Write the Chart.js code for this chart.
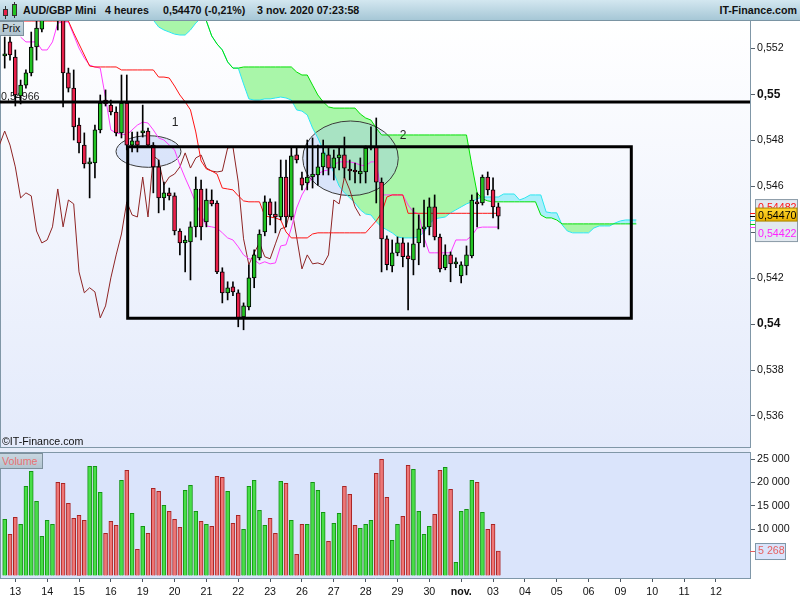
<!DOCTYPE html>
<html>
<head>
<meta charset="utf-8">
<title>AUD/GBP Mini 4 heures</title>
<script src="https://cdn.jsdelivr.net/npm/chart.js@4.4.1/dist/chart.umd.min.js"></script>
<style>
  html, body { margin:0; padding:0; width:800px; height:600px; overflow:hidden; background:#ffffff; font-family:"Liberation Sans", Arial, sans-serif; }
  .abs { position:absolute; }
  #hdr { left:0; top:0; width:800px; height:21px; background:linear-gradient(#d3e7f0,#a6c7d6); border-bottom:1px solid #7a94a3; box-sizing:border-box; }
  #hdr span { position:absolute; top:3px; font-weight:bold; font-size:10.67px; color:#111; white-space:nowrap; line-height:14px; }
  #pbg { left:0; top:21px; width:750px; height:427px; background:linear-gradient(#ffffff,#e3eafb); border-left:1px solid #8097a7; border-bottom:1px solid #8097a7; box-sizing:border-box; }
  #mid { left:0; top:448px; width:750px; height:4px; background:#e6ecfa; }
  #vbg { left:0; top:452px; width:750px; height:126px; background:#dae4fb; border-left:1px solid #8097a7; border-top:1px solid #8097a7; box-sizing:border-box; }
  #prix { left:0; top:21px; width:21px; height:13px; background:linear-gradient(#c9d8e0,#aec2cd); border:1px solid #7d909c; border-left:none; font-size:10.67px; line-height:13px; color:#111; padding-left:2px; box-sizing:content-box; }
  #volb { left:0; top:453px; width:40px; height:14px; background:linear-gradient(#c8d6e0,#b2c4d0); border:1px solid #7d909c; border-left:none; font-size:10.67px; line-height:14px; color:#e87272; padding-left:2px; }
  #copy { left:2px; top:435px; font-size:10.67px; color:#111; }
  .ic { position:absolute; }
  canvas { position:absolute; left:0; }
</style>
</head>
<body>
<div id="pbg" class="abs"></div>
<div id="mid" class="abs"></div>
<div id="vbg" class="abs"></div>
<canvas id="pc" width="800" height="428" style="top:20px;width:800px;height:428px"></canvas>
<canvas id="vc" width="800" height="148" style="top:452px;width:800px;height:148px"></canvas>
<div id="hdr" class="abs">
  <div class="ic" style="left:5px;top:6px;width:1px;height:13px;background:#333"></div>
  <div class="ic" style="left:3px;top:9px;width:5px;height:7px;background:#e8204a;border:1px solid #333;box-sizing:border-box"></div>
  <div class="ic" style="left:14px;top:2px;width:1px;height:16px;background:#333"></div>
  <div class="ic" style="left:12px;top:4px;width:5px;height:12px;background:#22c322;border:1px solid #333;box-sizing:border-box"></div>
  <span style="left:23px">AUD/GBP Mini</span>
  <span style="left:105px">4 heures</span>
  <span style="left:163px">0,54470 (-0,21%)</span>
  <span style="left:257px">3 nov. 2020 07:23:58</span>
  <span style="right:3px">IT-Finance.com</span>
</div>
<div id="prix" class="abs">Prix</div>
<div id="volb" class="abs">Volume</div>
<div id="copy" class="abs">©IT-Finance.com</div>
<script>
// ---------- data ----------
const openP = [0.55167,0.55228,0.55162,0.54993,0.55040,0.55093,0.55206,0.55284,0.55345,0.55420,
0.55500,0.55450,0.55093,0.55027,0.54866,0.54779,0.54697,0.54701,0.54845,0.54975,
0.54953,0.54923,0.54832,0.54962,0.54779,0.54797,0.54832,0.54840,0.54779,0.54684,
0.54549,0.54571,0.54558,0.54405,0.54353,0.54358,0.54423,0.54588,0.54445,0.54540,
0.54527,0.54227,0.54136,0.54162,0.54136,0.54031,0.54075,0.54201,0.54288,0.54401,
0.54532,0.54479,0.54466,0.54640,0.54466,0.54736,0.54636,0.54614,0.54640,0.54649,
0.54684,0.54736,0.54679,0.54723,0.54736,0.54675,0.54666,0.54653,0.54662,0.54766,
0.54771,0.54618,0.54371,0.54253,0.54310,0.54353,0.54297,0.54279,0.54353,0.54414,
0.54423,0.54510,0.54379,0.54245,0.54301,0.54262,0.54210,0.54253,0.54297,0.54532,
0.54527,0.54640,0.54584,0.54510];
const highP = [0.55249,0.55249,0.55193,0.55062,0.55106,0.55271,0.55319,0.55367,0.55437,0.55505,
0.55670,0.55470,0.55114,0.55106,0.54897,0.54832,0.54723,0.54866,0.54997,0.55019,
0.54975,0.54945,0.55084,0.55084,0.54836,0.54836,0.54953,0.54853,0.54790,0.54714,
0.54618,0.54592,0.54571,0.54414,0.54384,0.54445,0.54640,0.54627,0.54588,0.54584,
0.54536,0.54245,0.54184,0.54184,0.54149,0.54092,0.54258,0.54323,0.54410,0.54558,
0.54545,0.54532,0.54714,0.54714,0.54771,0.54771,0.54662,0.54801,0.54810,0.54779,
0.54801,0.54766,0.54758,0.54766,0.54814,0.54714,0.54701,0.54723,0.54775,0.54858,
0.54897,0.54636,0.54384,0.54366,0.54379,0.54375,0.54353,0.54505,0.54475,0.54540,
0.54549,0.54562,0.54392,0.54345,0.54314,0.54288,0.54271,0.54340,0.54562,0.54571,
0.54649,0.54662,0.54636,0.54527];
const lowP = [0.55114,0.55149,0.54949,0.54958,0.55027,0.55080,0.55149,0.55271,0.55320,0.55390,
0.55280,0.54945,0.55010,0.54801,0.54745,0.54679,0.54549,0.54636,0.54832,0.54949,
0.54910,0.54819,0.54810,0.54758,0.54749,0.54749,0.54814,0.54771,0.54571,0.54484,
0.54497,0.54540,0.54388,0.54301,0.54227,0.54192,0.54379,0.54366,0.54423,0.54514,
0.54219,0.54092,0.54105,0.54123,0.53988,0.53975,0.54062,0.54158,0.54279,0.54384,
0.54432,0.54397,0.54453,0.54423,0.54453,0.54701,0.54584,0.54584,0.54592,0.54605,
0.54649,0.54649,0.54627,0.54671,0.54636,0.54627,0.54614,0.54614,0.54614,0.54758,
0.54527,0.54227,0.54236,0.54227,0.54297,0.54249,0.54062,0.54214,0.54258,0.54336,
0.54388,0.54366,0.54227,0.54236,0.54184,0.54245,0.54179,0.54214,0.54288,0.54423,
0.54518,0.54562,0.54462,0.54414];
const closeP = [0.55175,0.55171,0.54997,0.55040,0.55093,0.55206,0.55288,0.55345,0.55420,0.55495,
0.55450,0.55093,0.55027,0.54858,0.54788,0.54697,0.54701,0.54845,0.54962,0.54958,
0.54923,0.54832,0.54962,0.54779,0.54797,0.54779,0.54840,0.54779,0.54684,0.54549,
0.54571,0.54558,0.54405,0.54353,0.54366,0.54423,0.54588,0.54423,0.54540,0.54523,
0.54227,0.54136,0.54158,0.54140,0.54027,0.54079,0.54201,0.54301,0.54392,0.54532,
0.54475,0.54466,0.54640,0.54466,0.54732,0.54714,0.54605,0.54640,0.54653,0.54684,
0.54745,0.54679,0.54723,0.54736,0.54679,0.54666,0.54662,0.54666,0.54766,0.54771,
0.54618,0.54371,0.54258,0.54310,0.54353,0.54293,0.54284,0.54349,0.54414,0.54423,
0.54510,0.54379,0.54240,0.54301,0.54262,0.54266,0.54258,0.54301,0.54540,0.54523,
0.54640,0.54584,0.54510,0.54470];
const volume = [12100,8870,12520,11020,19190,22420,15970,8440,11880,11020,
20060,19840,15540,12310,12950,11880,23500,23500,17900,9080,
11660,10800,20490,22640,13380,5640,10590,9080,18760,18120,
15110,13820,12100,10370,18330,19410,13820,11660,11020,10590,
21350,21130,18120,11230,12950,9940,19190,20490,14030,10800,
12310,9080,20270,19840,11880,4560,11020,11020,20060,18330,
13600,7360,11230,13380,19190,17470,10800,10160,11020,11880,
21990,25000,16830,7580,11020,12740,23710,22850,13820,8870,
10590,13170,22640,23280,18550,2840,13820,14250,20490,20060,
13600,9940,11020,5268];
const tenkan = [null,null,null,0.55249,0.55228,0.55228,0.55228,0.55193,0.55193,0.55228,
0.55310,0.55315,0.55315,0.55258,0.55201,0.55158,0.55127,0.55119,0.55114,0.54984,
0.54845,0.54832,0.54827,0.54823,0.54845,0.54866,0.54879,0.54875,0.54845,0.54810,
0.54801,0.54779,0.54758,0.54692,0.54636,0.54584,0.54527,0.54475,0.54427,0.54423,
0.54418,0.54397,0.54375,0.54366,0.54336,0.54301,0.54284,0.54279,0.54262,0.54271,
0.54262,0.54266,0.54340,0.54345,0.54418,0.54505,0.54562,0.54601,0.54645,0.54653,
0.54666,0.54671,0.54692,0.54706,0.54706,0.54706,0.54701,0.54692,0.54688,0.54706,
0.54706,0.54562,0.54562,0.54562,0.54562,0.54562,0.54518,0.54488,0.54479,0.54375,
0.54310,0.54310,0.54310,0.54310,0.54310,0.54366,0.54366,0.54366,0.54384,0.54418,
0.54422,0.54422,0.54422,0.54422];
const kijun = [null,null,null,0.55319,0.55319,0.55319,0.55319,0.55319,0.55319,0.55319,
0.55319,0.55319,0.55319,0.55267,0.55219,0.55171,0.55123,0.55119,0.55119,0.55119,
0.55119,0.55119,0.55106,0.55106,0.55106,0.55106,0.55106,0.55106,0.55106,0.55075,
0.55075,0.55071,0.55036,0.54997,0.54967,0.54932,0.54836,0.54710,0.54675,0.54666,
0.54653,0.54592,0.54588,0.54584,0.54558,0.54536,0.54532,0.54532,0.54532,0.54471,
0.54466,0.54462,0.54453,0.54401,0.54375,0.54375,0.54375,0.54375,0.54392,0.54397,
0.54397,0.54397,0.54397,0.54397,0.54397,0.54397,0.54397,0.54397,0.54397,0.54423,
0.54449,0.54484,0.54553,0.54562,0.54562,0.54562,0.54482,0.54482,0.54482,0.54482,
0.54482,0.54482,0.54482,0.54482,0.54482,0.54482,0.54482,0.54482,0.54482,0.54482,
0.54482,0.54482,0.54482,0.54482];
const senkouA = [0.55450,0.55450,0.55450,0.55450,0.55450,0.55450,0.55450,0.55450,0.55450,0.55450,
0.55450,0.55450,0.55450,0.55450,0.55450,0.55450,0.55450,0.55450,0.55450,0.55450,
0.55450,0.55400,0.55400,0.55400,0.55400,0.55400,0.55400,0.55400,0.55323,0.55293,
0.55280,0.55271,0.55262,0.55258,0.55258,0.55280,0.55310,0.55332,0.55319,0.55254,
0.55219,0.55193,0.55141,0.55114,0.55114,0.55045,0.54980,0.54975,0.54975,0.54980,
0.54980,0.54984,0.54988,0.54984,0.54975,0.54932,0.54927,0.54910,0.54853,0.54810,
0.54758,0.54714,0.54658,0.54601,0.54571,0.54549,0.54527,0.54497,0.54479,0.54475,
0.54445,0.54423,0.54410,0.54397,0.54379,0.54375,0.54375,0.54375,0.54379,0.54401,
0.54436,0.54458,0.54462,0.54466,0.54484,0.54497,0.54510,0.54523,0.54532,0.54545,
0.54553,0.54553,0.54553,0.54553,0.54566,0.54566,0.54566,0.54540,0.54549,0.54562,
0.54562,0.54562,0.54488,0.54484,0.54484,0.54432,0.54405,0.54397,0.54397,0.54397,
0.54397,0.54418,0.54427,0.54427,0.54427,0.54440,0.54449,0.54453,0.54453,0.54453];
const senkouB = [0.55500,0.55500,0.55500,0.55500,0.55500,0.55500,0.55500,0.55500,0.55500,0.55500,
0.55500,0.55500,0.55500,0.55500,0.55500,0.55500,0.55500,0.55500,0.55500,0.55500,
0.55500,0.55500,0.55500,0.55500,0.55500,0.55500,0.55500,0.55500,0.55500,0.55500,
0.55500,0.55450,0.55450,0.55450,0.55450,0.55450,0.55450,0.55450,0.55319,0.55254,
0.55219,0.55193,0.55141,0.55114,0.55114,0.55119,0.55119,0.55119,0.55119,0.55119,
0.55119,0.55119,0.55119,0.55119,0.55119,0.55097,0.55084,0.55084,0.55040,0.54997,
0.54967,0.54945,0.54940,0.54940,0.54940,0.54940,0.54940,0.54914,0.54897,0.54888,
0.54853,0.54823,0.54823,0.54823,0.54823,0.54823,0.54823,0.54823,0.54823,0.54823,
0.54823,0.54823,0.54823,0.54823,0.54823,0.54823,0.54823,0.54823,0.54692,0.54571,
0.54545,0.54536,0.54532,0.54532,0.54532,0.54532,0.54532,0.54532,0.54532,0.54532,
0.54532,0.54475,0.54462,0.54462,0.54453,0.54436,0.54436,0.54436,0.54436,0.54436,
0.54436,0.54436,0.54436,0.54436,0.54436,0.54436,0.54436,0.54436,0.54436,0.54436];
const CHIKOU_SHIFT = 26;
const dayTickIndex = [2,8,14,20,26,32,38,44,50,56,62,68,74,80,86,92,98,104,110,116,122,128,134];
const dayTickLabels = ['13','14','15','16','19','20','21','22','23','26','27','28','29','30','nov.','03','04','05','06','09','10','11','12'];
const priceTicks = [0.536,0.538,0.540,0.542,0.544,0.546,0.548,0.550,0.552];
const priceTickLabels = ['0,536','0,538','0,54','0,542','0,544','0,546','0,548','0,55','0,552'];
const volTicks = [10000,15000,20000,25000];
const volTickLabels = ['10 000','15 000','20 000','25 000'];
// drawing objects (in data units)
const hLineLevel = 0.54966;
const hLineLabel = '0,54966';
const rectBox = {x0:23.17, x1:118.05, top:0.54772, bottom:0.54025};
const ellipseShapes = [
  {cx:27.09, cy:0.54751, rx:6.12, ry:0.000688, text:'1', tx:32.08, ty:0.54875},
  {cx:65.15, cy:0.547214, rx:9.0, ry:0.001624, text:'2', tx:75.04, ty:0.548185}
];
// ---------- layout constants ----------
const X_MIN = -0.885, X_MAX = 140.41;
const P_MIN = 0.534605, P_MAX = 0.553234;
const V_MIN = -538, V_MAX = 26568;

const C_UP = '#22c322', C_DN = '#e8204a';
const V_UP = '#48de48', V_UP_B = '#149414', V_DN = '#ee7676', V_DN_B = '#a82424';

Chart.defaults.font.family = '"Liberation Sans", Arial, sans-serif';
Chart.defaults.font.size = 10.67;
Chart.defaults.color = '#111';

const ix = closeP.map((_, i) => i);
const isUp = ix.map(i => closeP[i] >= openP[i]);
const chikouData = [];
for (let i = -1; i + CHIKOU_SHIFT < closeP.length; i++) chikouData.push({x: i, y: closeP[i + CHIKOU_SHIFT]});
const rectData = [
  {x: rectBox.x0, y: rectBox.top}, {x: rectBox.x1, y: rectBox.top}, {x: rectBox.x1, y: rectBox.bottom},
  {x: rectBox.x0, y: rectBox.bottom}, {x: rectBox.x0, y: rectBox.top}, {x: rectBox.x1, y: rectBox.top}
];
const fmt5 = v => v.toFixed(5).replace('.', ',');
const last = a => { for (let i = a.length - 1; i >= 0; i--) if (a[i] != null) return a[i]; return null; };

const priceDecor = {
  id: 'priceDecor',
  beforeDatasetsDraw(chart) {
    const {ctx, chartArea: a, scales: {x, y}} = chart;
    ctx.save();
    ctx.beginPath(); ctx.rect(a.left, a.top, a.right - a.left, a.bottom - a.top); ctx.clip();
    ellipseShapes.forEach(e => {
      const cx = x.getPixelForValue(e.cx), cy = y.getPixelForValue(e.cy);
      const rx = Math.abs(x.getPixelForValue(e.cx + e.rx) - cx);
      const ry = Math.abs(y.getPixelForValue(e.cy + e.ry) - cy);
      ctx.beginPath(); ctx.ellipse(cx, cy, rx, ry, 0, 0, Math.PI * 2);
      ctx.fillStyle = 'rgba(170,195,245,0.36)'; ctx.fill();
      ctx.strokeStyle = '#3a3a3a'; ctx.lineWidth = 1; ctx.stroke();
      ctx.fillStyle = '#222'; ctx.font = '12px "Liberation Sans", Arial, sans-serif';
      ctx.textAlign = 'center'; ctx.textBaseline = 'middle';
      ctx.fillText(e.text, x.getPixelForValue(e.tx), y.getPixelForValue(e.ty));
    });
    ctx.fillStyle = '#222'; ctx.font = '10.67px "Liberation Sans", Arial, sans-serif';
    ctx.textAlign = 'left'; ctx.textBaseline = 'alphabetic';
    ctx.fillText(hLineLabel, a.left + 1, y.getPixelForValue(hLineLevel) - 2.5);
    ctx.restore();
  },
  afterDraw(chart) {
    const {ctx, chartArea: a, scales: {y}} = chart;
    ctx.save();
    const marks = [[last(kijun), '#ff1414'], [last(closeP), '#000'], [last(senkouA), '#22e4ee'], [last(senkouB), '#00d000'], [last(tenkan), '#ff3cff']];
    ctx.lineWidth = 1;
    marks.forEach(([v, c]) => {
      const py = Math.round(y.getPixelForValue(v)) + 0.5;
      ctx.strokeStyle = c; ctx.beginPath(); ctx.moveTo(a.right, py); ctx.lineTo(a.right + 6, py); ctx.stroke();
    });
    const py = y.getPixelForValue(last(closeP));
    const L = a.right + 5.5, R = a.right + 47.5;
    ctx.fillStyle = '#e2e9f0'; ctx.strokeStyle = '#8a9aa7';
    ctx.fillRect(L, py - 16.5, R - L, 42); ctx.strokeRect(L, py - 16.5, R - L, 42);
    ctx.font = '10.67px "Liberation Sans", Arial, sans-serif'; ctx.textAlign = 'left'; ctx.textBaseline = 'alphabetic';
    ctx.fillStyle = '#ff1414'; ctx.fillText(fmt5(last(kijun)), L + 2.5, py - 5.5);
    const g = ctx.createLinearGradient(0, py - 8, 0, py + 5);
    g.addColorStop(0, '#ffd830'); g.addColorStop(1, '#eab000');
    ctx.fillStyle = g; ctx.fillRect(L + 0.5, py - 8, R - L - 1, 13);
    ctx.strokeStyle = '#a88400'; ctx.strokeRect(L + 0.5, py - 8, R - L - 1, 13);
    ctx.fillStyle = '#000'; ctx.fillText(fmt5(last(closeP)), L + 2.5, py + 2.8);
    ctx.fillStyle = '#ff22ff'; ctx.fillText(fmt5(last(tenkan)), L + 2.5, py + 21);
    ctx.restore();
  }
};

new Chart(document.getElementById('pc'), {
  type: 'bar',
  data: { datasets: [
    { type:'line', label:'Senkou A', data: senkouA.map((v, i) => ({x:i, y:v})), borderColor:'#2ae6f0', borderWidth:1, pointRadius:0, fill:false, order:9 },
    { type:'line', label:'Senkou B', data: senkouB.map((v, i) => ({x:i, y:v})), borderColor:'#00e000', borderWidth:1, pointRadius:0,
      fill:{target:'-1', above:'rgba(164,246,164,0.95)', below:'rgba(166,238,250,0.95)'}, order:8 },
    { type:'line', label:'Chikou', data: chikouData, borderColor:'#8e2424', borderWidth:1, pointRadius:0, order:7 },
    { type:'line', label:'Tenkan', data: tenkan.map((v, i) => ({x:i, y:v})), borderColor:'#ff3cff', borderWidth:1, pointRadius:0, order:6 },
    { type:'line', label:'Kijun', data: kijun.map((v, i) => ({x:i, y:v})), borderColor:'#ff1414', borderWidth:1, pointRadius:0, order:5 },
    { type:'bar', label:'Mèches', data: ix.map(i => ({x:i, y:[lowP[i], highP[i]]})), backgroundColor:'#000', barThickness:1, grouped:false, order:4 },
    { type:'bar', label:'Corps', data: ix.map(i => ({x:i, y:[openP[i], closeP[i]]})), backgroundColor: ix.map(i => isUp[i] ? C_UP : C_DN),
      borderColor:'#000', borderWidth:1, borderSkipped:false, barThickness:4, minBarLength:2, grouped:false, order:3 },
    { type:'line', label:'Niveau', data:[{x:X_MIN, y:hLineLevel}, {x:X_MAX, y:hLineLevel}], borderColor:'#000', borderWidth:3, pointRadius:0, order:1 },
    { type:'line', label:'Rectangle', data: rectData, borderColor:'#000', borderWidth:3, pointRadius:0, borderJoinStyle:'miter', order:1 }
  ]},
  options: {
    responsive:false, animation:false, maintainAspectRatio:false,
    layout:{padding:0, autoPadding:false},
    plugins:{legend:{display:false}, tooltip:{enabled:false}, filler:{drawTime:'beforeDatasetsDraw'}},
    scales:{
      x:{type:'linear', min:X_MIN, max:X_MAX, display:false, offset:false},
      y:{type:'linear', position:'right', min:P_MIN, max:P_MAX, beginAtZero:false,
        afterFit(s){ s.width = 50; s.paddingTop = 0; s.paddingBottom = 0; },
        afterBuildTicks(s){ s.ticks = priceTicks.map(v => ({value:v})); },
        ticks:{ padding:2, color:'#111', callback:(v, i) => priceTickLabels[i],
          font: c => ((priceTickLabels[c.index] || '').length === 4 ? {size:12, weight:'bold'} : {size:10.67, weight:'normal'}) },
        grid:{display:true, drawOnChartArea:false, drawTicks:true, tickLength:5, color:'#55606a'},
        border:{display:true, color:'#8097a7', width:1}
      }
    }
  },
  plugins:[priceDecor]
});

const volDecor = {
  id: 'volDecor',
  afterDraw(chart) {
    const {ctx, chartArea: a, scales: {y}} = chart;
    const v = volume[volume.length - 1];
    const py = y.getPixelForValue(v);
    ctx.save();
    ctx.strokeStyle = '#e06060'; ctx.lineWidth = 1;
    ctx.beginPath(); ctx.moveTo(a.right, Math.round(py) + 0.5); ctx.lineTo(a.right + 6, Math.round(py) + 0.5); ctx.stroke();
    ctx.fillStyle = '#dae4fb'; ctx.strokeStyle = '#7f97a8';
    ctx.fillRect(a.right + 5.5, py - 7.5, 30, 16); ctx.strokeRect(a.right + 5.5, py - 7.5, 30, 16);
    ctx.fillStyle = '#e66060'; ctx.font = '10.67px "Liberation Sans", Arial, sans-serif';
    ctx.textAlign = 'left'; ctx.textBaseline = 'middle';
    ctx.fillText(v.toLocaleString('fr-FR').replace(/\s/g, ' '), a.right + 8, py + 0.5);
    ctx.restore();
  }
};

new Chart(document.getElementById('vc'), {
  type: 'bar',
  data: { datasets: [
    { label:'Volume', data: ix.map(i => ({x:i, y:volume[i]})), backgroundColor: ix.map(i => isUp[i] ? V_UP : V_DN),
      borderColor: ix.map(i => isUp[i] ? V_UP_B : V_DN_B), borderWidth:1, barThickness:4, grouped:false }
  ]},
  options: {
    responsive:false, animation:false, maintainAspectRatio:false,
    layout:{padding:0, autoPadding:false},
    plugins:{legend:{display:false}, tooltip:{enabled:false}},
    scales:{
      x:{type:'linear', position:'bottom', min:X_MIN, max:X_MAX, offset:false,
        afterFit(s){ s.height = 22; s.paddingLeft = 0; s.paddingRight = 0; },
        afterBuildTicks(s){ s.ticks = dayTickIndex.map(v => ({value:v})); },
        ticks:{ autoSkip:false, maxRotation:0, padding:4, color:'#111', callback:(v, i) => dayTickLabels[i],
          font: c => (dayTickLabels[c.index] === 'nov.' ? {size:10.67, weight:'bold'} : {size:10.67, weight:'normal'}) },
        grid:{display:true, drawOnChartArea:false, drawTicks:true, tickLength:4, color:'#4b5662', offset:false},
        border:{display:true, color:'#7f97a8', width:1}
      },
      y:{type:'linear', position:'right', min:V_MIN, max:V_MAX, beginAtZero:false,
        afterFit(s){ s.width = 50; s.paddingTop = 0; s.paddingBottom = 0; },
        afterBuildTicks(s){ s.ticks = volTicks.map(v => ({value:v})); },
        ticks:{ padding:2, color:'#111', callback:(v, i) => volTickLabels[i] },
        grid:{display:true, drawOnChartArea:false, drawTicks:true, tickLength:5, color:'#55606a'},
        border:{display:true, color:'#7f97a8', width:1}
      }
    }
  },
  plugins:[volDecor]
});
</script>
</body>
</html>
